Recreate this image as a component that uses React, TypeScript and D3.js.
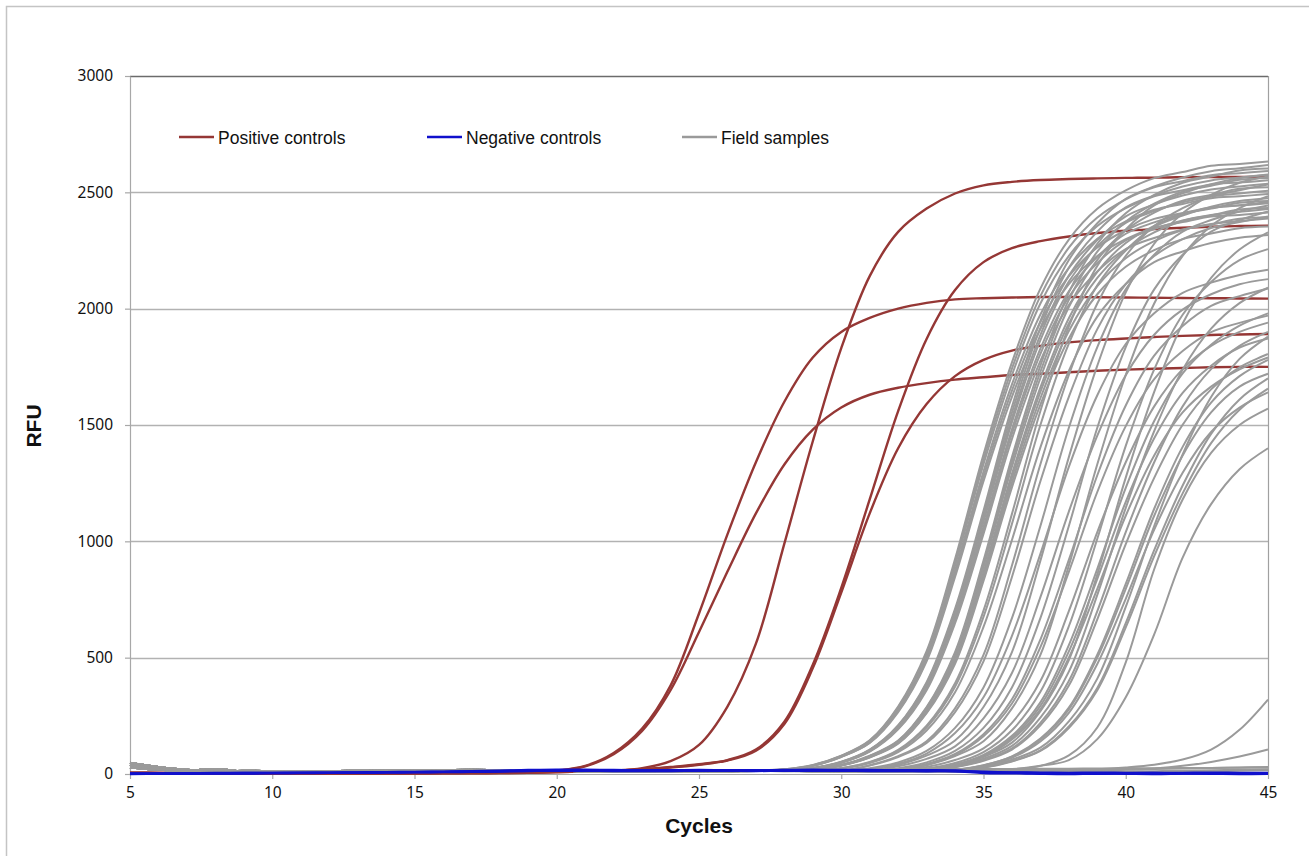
import * as d3 from "d3";
import { useEffect, useRef } from "react";

const W = 1309;
const H = 856;

const cycles = d3.range(5, 46);
const yTicks = [0, 500, 1000, 1500, 2000, 2500, 3000];
const xTicks = [5, 10, 15, 20, 25, 30, 35, 40, 45];

// positive controls, cycles 5..45
const positiveControls = [
  [6, 5, 5, 4, 4, 4, 3, 3, 3, 4, 4, 5, 6, 7, 9,
    15, 35, 90, 195, 380, 690, 1030, 1340, 1600, 1790, 1900, 1960, 2000, 2025, 2040, 2045, 2048, 2050, 2050, 2049, 2048, 2047, 2046, 2045, 2044, 2043],
  [5, 5, 4, 4, 3, 3, 3, 2, 2, 3, 4, 5, 6, 7, 9,
    14, 33, 85, 185, 360, 610, 870, 1120, 1330, 1480, 1575, 1630, 1660, 1680, 1695, 1705, 1715, 1720, 1727, 1733, 1738, 1742, 1745, 1748, 1750, 1750],
  [4, 4, 3, 3, 3, 2, 2, 2, 2, 3, 3, 4, 4, 5, 6,
    8, 10, 14, 25, 55, 125, 290, 560, 990, 1430, 1830, 2140, 2330, 2430, 2495, 2530, 2545, 2553, 2557, 2560, 2562, 2563, 2565, 2566, 2566, 2567],
  [3, 3, 3, 2, 2, 2, 1, 1, 1, 2, 2, 3, 3, 4, 5,
    8, 12, 15, 20, 30, 42, 60, 105, 225, 470, 800, 1180, 1560, 1870, 2080, 2200, 2260, 2290, 2310, 2325, 2335, 2342, 2348, 2352, 2355, 2357],
  [4, 3, 3, 2, 2, 1, 1, 1, 2, 2, 3, 3, 4, 4, 5,
    8, 12, 15, 20, 28, 40, 58, 100, 215, 455, 780, 1120, 1400, 1590, 1710, 1780, 1820, 1840, 1855, 1865, 1872, 1878, 1883, 1887, 1889, 1891],
];

// negative controls, cycles 5..45
const negativeControls = [
  [0, 1, 2, 3, 4, 5, 6, 6, 7, 8, 9, 10, 12, 14, 17, 19, 18, 17, 16, 16,
    17, 16, 16, 17, 18, 17, 17, 16, 16, 15, 8, 7, 6, 5, 6, 5, 4, 5, 6, 5, 4],
  [2, 2, 3, 4, 4, 5, 5, 6, 7, 8, 8, 9, 10, 12, 14, 15, 15, 14, 14, 15,
    15, 14, 15, 16, 16, 15, 15, 14, 14, 13, 10, 6, 3, 2, 1, 3, 4, 2, 1, 0, 1],
  [1, 1, 1, 2, 2, 3, 4, 5, 5, 6, 7, 8, 9, 11, 13, 14, 14, 13, 13, 13,
    14, 14, 13, 14, 14, 14, 13, 13, 12, 12, 4, 3, 1, 0, 2, 1, 0, 2, 3, 2, 2],
];

// field sample baselines, cycles 5..27
const fieldBaselines = [
  [48, 30, 18, 15, 12, 10, 10, 11, 12, 13, 14, 14, 15, 15, 15, 14, 13, 12, 12, 12, 12, 13, 13],
  [40, 22, 14, 22, 10, 9, 10, 12, 14, 15, 16, 17, 18, 17, 16, 15, 14, 13, 13, 13, 14, 14, 15],
  [28, 18, 12, 10, 14, 12, 11, 10, 10, 11, 12, 13, 13, 14, 14, 13, 12, 11, 11, 12, 12, 12, 13],
];

// field samples, cycles 28..45
const fieldSamples = [
  [20, 39, 79, 145, 290, 528, 924, 1373, 1769, 2086, 2297, 2429, 2508, 2561, 2587, 2614, 2622, 2632],
  [20, 38, 78, 143, 286, 520, 910, 1352, 1742, 2054, 2262, 2392, 2470, 2522, 2548, 2574, 2582, 2592],
  [19, 37, 77, 141, 282, 512, 896, 1331, 1715, 2022, 2227, 2355, 2432, 2483, 2509, 2534, 2542, 2552],
  [19, 36, 75, 138, 275, 500, 875, 1300, 1675, 1975, 2175, 2300, 2375, 2425, 2450, 2475, 2483, 2493],
  [18, 35, 74, 135, 271, 492, 861, 1279, 1648, 1943, 2140, 2263, 2337, 2386, 2411, 2435, 2443, 2453],
  [18, 35, 73, 133, 266, 484, 847, 1258, 1621, 1912, 2105, 2226, 2299, 2347, 2372, 2396, 2403, 2413],
  [18, 26, 53, 105, 210, 395, 710, 1131, 1578, 1946, 2209, 2367, 2472, 2525, 2564, 2591, 2604, 2617],
  [18, 26, 52, 104, 207, 389, 699, 1114, 1554, 1917, 2176, 2331, 2435, 2486, 2525, 2551, 2564, 2577],
  [17, 25, 51, 102, 204, 383, 689, 1097, 1530, 1887, 2142, 2295, 2397, 2448, 2486, 2512, 2525, 2537],
  [17, 25, 50, 101, 202, 378, 680, 1084, 1512, 1865, 2117, 2268, 2369, 2419, 2457, 2482, 2495, 2507],
  [17, 24, 49, 99, 198, 371, 667, 1062, 1482, 1828, 2075, 2223, 2322, 2371, 2408, 2433, 2445, 2458],
  [17, 24, 49, 98, 195, 366, 659, 1049, 1464, 1806, 2050, 2196, 2294, 2342, 2379, 2403, 2416, 2428],
  [16, 24, 48, 96, 192, 360, 648, 1032, 1440, 1776, 2016, 2160, 2256, 2304, 2340, 2364, 2376, 2388],
  [15, 20, 39, 79, 144, 288, 524, 917, 1362, 1755, 2070, 2279, 2410, 2489, 2541, 2568, 2594, 2602],
  [15, 20, 39, 77, 142, 284, 516, 903, 1342, 1729, 2038, 2245, 2374, 2451, 2503, 2528, 2554, 2562],
  [15, 19, 38, 76, 140, 279, 508, 889, 1321, 1702, 2007, 2210, 2337, 2413, 2464, 2489, 2515, 2522],
  [15, 19, 37, 74, 136, 273, 496, 868, 1290, 1662, 1959, 2158, 2282, 2356, 2406, 2430, 2455, 2463],
  [15, 19, 37, 74, 135, 270, 490, 858, 1274, 1642, 1936, 2132, 2254, 2328, 2377, 2401, 2426, 2433],
  [14, 18, 36, 72, 133, 265, 482, 844, 1253, 1615, 1904, 2097, 2217, 2290, 2338, 2362, 2386, 2393],
  [14, 18, 36, 71, 130, 261, 474, 830, 1232, 1588, 1872, 2062, 2180, 2252, 2299, 2323, 2346, 2353],
  [14, 17, 26, 52, 104, 208, 390, 702, 1118, 1560, 1924, 2184, 2340, 2444, 2496, 2535, 2561, 2574],
  [14, 17, 25, 50, 100, 200, 375, 675, 1075, 1500, 1850, 2100, 2250, 2350, 2400, 2438, 2463, 2475],
  [14, 16, 23, 47, 94, 187, 351, 632, 1006, 1404, 1732, 1966, 2106, 2200, 2246, 2282, 2305, 2317],
  [13, 14, 15, 38, 77, 141, 282, 512, 896, 1331, 1715, 2022, 2227, 2355, 2432, 2483, 2509, 2534],
  [13, 14, 15, 36, 73, 133, 266, 484, 847, 1258, 1621, 1912, 2105, 2226, 2299, 2347, 2372, 2396],
  [13, 14, 15, 25, 50, 99, 198, 372, 670, 1066, 1488, 1835, 2083, 2232, 2331, 2381, 2418, 2443],
  [13, 14, 14, 22, 44, 88, 176, 330, 594, 946, 1320, 1628, 1848, 1980, 2068, 2112, 2145, 2167],
  [13, 14, 14, 15, 39, 79, 144, 288, 524, 917, 1362, 1755, 2070, 2279, 2410, 2489, 2541, 2568],
  [13, 13, 13, 15, 33, 65, 119, 239, 434, 760, 1128, 1454, 1714, 1888, 1996, 2062, 2105, 2127],
  [13, 13, 12, 15, 25, 50, 99, 198, 372, 670, 1066, 1488, 1835, 2083, 2232, 2331, 2381, 2418],
  [13, 13, 12, 15, 21, 43, 86, 171, 321, 578, 920, 1284, 1584, 1798, 1926, 2012, 2054, 2087],
  [13, 13, 12, 14, 20, 40, 81, 162, 303, 545, 869, 1212, 1495, 1697, 1818, 1899, 1939, 1970],
  [13, 13, 12, 14, 15, 38, 77, 141, 282, 512, 896, 1331, 1715, 2022, 2227, 2355, 2432, 2483],
  [13, 13, 12, 13, 15, 30, 60, 110, 220, 400, 700, 1040, 1340, 1580, 1740, 1840, 1900, 1940],
  [13, 13, 12, 12, 14, 20, 39, 78, 156, 293, 527, 839, 1170, 1443, 1638, 1755, 1833, 1872],
  [13, 13, 12, 12, 16, 24, 47, 94, 188, 353, 635, 1011, 1410, 1739, 1974, 2115, 2209, 2256],
  [13, 13, 12, 12, 12, 15, 29, 57, 105, 209, 380, 665, 988, 1273, 1501, 1653, 1748, 1805],
  [13, 13, 12, 12, 15, 20, 37, 74, 135, 270, 490, 858, 1274, 1642, 1936, 2132, 2254, 2328],
  [13, 12, 12, 12, 13, 19, 37, 74, 148, 278, 500, 796, 1110, 1369, 1554, 1665, 1739, 1790],
  [13, 12, 12, 12, 14, 21, 41, 82, 164, 308, 554, 882, 1230, 1517, 1722, 1845, 1927, 1980],
  [13, 13, 12, 12, 12, 12, 15, 27, 54, 99, 198, 360, 630, 936, 1206, 1422, 1566, 1656],
  [13, 12, 12, 12, 13, 18, 33, 66, 121, 242, 440, 770, 1144, 1474, 1738, 1914, 2024, 2090],
  [13, 12, 12, 12, 12, 16, 30, 60, 110, 220, 400, 700, 1040, 1340, 1580, 1740, 1840, 1900],
  [13, 12, 12, 12, 12, 13, 19, 38, 76, 152, 285, 513, 817, 1140, 1406, 1596, 1710, 1780],
  [13, 12, 12, 12, 12, 13, 18, 37, 74, 148, 278, 500, 796, 1110, 1369, 1554, 1665, 1720],
  [13, 12, 12, 12, 12, 12, 17, 35, 70, 140, 263, 473, 753, 1050, 1295, 1470, 1575, 1640],
  [13, 12, 12, 12, 12, 12, 15, 28, 56, 102, 204, 370, 648, 962, 1240, 1462, 1610, 1700],
  [13, 12, 12, 12, 12, 12, 16, 31, 62, 113, 226, 410, 718, 1066, 1374, 1620, 1784, 1880],
  [13, 12, 12, 12, 12, 12, 13, 15, 20, 35, 80, 200, 480, 880, 1180, 1380, 1500, 1570],
  [13, 13, 12, 12, 12, 12, 13, 15, 20, 35, 60, 150, 330, 600, 930, 1160, 1310, 1400],
  [13, 13, 12, 12, 12, 12, 12, 13, 14, 15, 17, 20, 28, 40, 62, 105, 190, 320],
  [13, 13, 12, 12, 12, 12, 12, 12, 13, 13, 14, 15, 18, 24, 35, 52, 75, 105],
  [14, 15, 15, 15, 16, 16, 17, 17, 18, 18, 19, 20, 20, 22, 24, 26, 28, 30],
  [12, 12, 12, 12, 12, 11, 10, 9, 8, 8, 9, 10, 11, 12, 14, 16, 18, 20],
  [12, 13, 14, 14, 13, 12, 10, 8, 5, 3, 2, 3, 5, 7, 9, 12, 14, 16],
  [15, 16, 17, 18, 19, 20, 21, 22, 22, 23, 23, 24, 24, 25, 26, 26, 27, 28],
];

const legendItems = [
  { label: "Positive controls", color: "#953735", x: 179 },
  { label: "Negative controls", color: "#1010cc", x: 427 },
  { label: "Field samples", color: "#9a9a9a", x: 682 },
];

const App = () => {
  const chartRef = useRef<SVGSVGElement>(null);

  useEffect(() => {
    const svg = d3.select(chartRef.current);
    svg.selectAll("*").remove();

    const left = 130, right = 1268, top = 76, bottom = 774;
    const x = d3.scaleLinear().domain([5, 45]).range([left, right]);
    const y = d3.scaleLinear().domain([0, 3000]).range([bottom, top]);

    // outer frame
    svg.append("rect")
      .attr("x", 6.5).attr("y", 6.5)
      .attr("width", 1330).attr("height", 900)
      .attr("fill", "white")
      .attr("stroke", "#c4c4c4")
      .attr("stroke-width", 1.5);

    // grid
    svg.append("g")
      .selectAll("line")
      .data(yTicks.filter(t => t > 0))
      .enter()
      .append("line")
      .attr("x1", left).attr("x2", right)
      .attr("y1", d => Math.round(y(d)) + 0.5)
      .attr("y2", d => Math.round(y(d)) + 0.5)
      .attr("stroke", d => (d === 3000 ? "#6b6b6b" : "#b2b2b2"))
      .attr("stroke-width", 1.3);

    svg.append("line")
      .attr("x1", right + 0.5).attr("x2", right + 0.5)
      .attr("y1", top).attr("y2", bottom)
      .attr("stroke", "#a0a0a0")
      .attr("stroke-width", 1.2);

    const yAxis = d3.axisLeft(y).tickValues(yTicks).tickFormat(d3.format("d"))
      .tickSize(5).tickSizeOuter(0).tickPadding(12);
    const gy = svg.append("g").attr("transform", `translate(${left}, 0)`).call(yAxis);

    const xAxis = d3.axisBottom(x).tickValues(xTicks).tickFormat(d3.format("d"))
      .tickSize(5).tickSizeOuter(0).tickPadding(8);
    const gx = svg.append("g").attr("transform", `translate(0, ${bottom})`).call(xAxis);

    [gy, gx].forEach(g => {
      g.select(".domain").attr("stroke", "#a8a8a8").attr("stroke-width", 1.2);
      g.selectAll(".tick line").attr("stroke", "#a8a8a8").attr("stroke-width", 1.2);
      g.selectAll(".tick text")
        .attr("fill", "#111")
        .style("font-family", "'Noto Sans', sans-serif")
        .style("font-size", "15.5px");
    });

    // smoothed lines like the spreadsheet
    const line = d3.line<number>()
      .x((_, i) => x(cycles[i]))
      .y(d => y(d))
      .curve(d3.curveCatmullRom.alpha(0.5));

    const plot = svg.append("g");

    plot.selectAll(".pos")
      .data(positiveControls)
      .enter()
      .append("path")
      .attr("d", d => line(d))
      .attr("fill", "none")
      .attr("stroke", "#953735")
      .attr("stroke-width", 2.4);

    const fieldSeries = fieldSamples.map((s, i) => [...fieldBaselines[i % 3], ...s]);
    plot.selectAll(".field")
      .data(fieldSeries)
      .enter()
      .append("path")
      .attr("d", d => line(d))
      .attr("fill", "none")
      .attr("stroke", "#9a9a9a")
      .attr("stroke-width", 2);

    plot.selectAll(".neg")
      .data(negativeControls)
      .enter()
      .append("path")
      .attr("d", d => line(d))
      .attr("fill", "none")
      .attr("stroke", "#1010cc")
      .attr("stroke-width", 2.4);

    // legend
    const legend = svg.append("g");
    legendItems.forEach(item => {
      legend.append("line")
        .attr("x1", item.x).attr("x2", item.x + 35)
        .attr("y1", 137).attr("y2", 137)
        .attr("stroke", item.color)
        .attr("stroke-width", 2.5);
      legend.append("text")
        .attr("x", item.x + 39)
        .attr("y", 143.5)
        .text(item.label)
        .style("font-family", "'Liberation Sans', Arial, sans-serif")
        .style("font-size", "17.5px")
        .attr("fill", "#111");
    });

    // axis titles
    svg.append("text")
      .attr("transform", "translate(41, 426) rotate(-90)")
      .attr("text-anchor", "middle")
      .text("RFU")
      .style("font-family", "'Liberation Sans', Arial, sans-serif")
      .style("font-size", "21px")
      .style("font-weight", "bold")
      .attr("fill", "#111");

    svg.append("text")
      .attr("x", 699)
      .attr("y", 833)
      .attr("text-anchor", "middle")
      .text("Cycles")
      .style("font-family", "'Liberation Sans', Arial, sans-serif")
      .style("font-size", "21px")
      .style("font-weight", "bold")
      .attr("fill", "#111");
  }, []);

  return (
    <div style={{ position: "absolute", left: 0, top: 0, background: "white" }}>
      <svg ref={chartRef} width={W} height={H} style={{ display: "block" }}></svg>
    </div>
  );
};

export default App;
